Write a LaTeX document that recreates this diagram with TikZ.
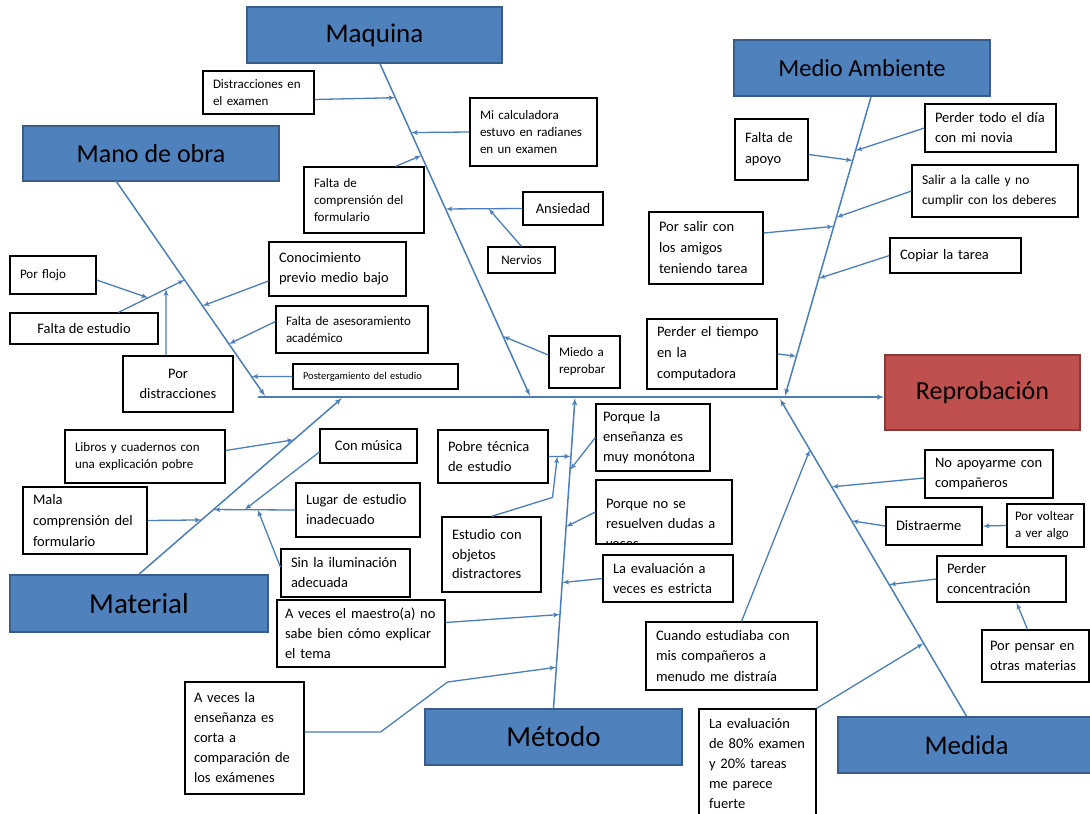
\documentclass[tikz,border=0pt]{standalone}
\usepackage{fontspec}
\setmainfont{Carlito}
\usetikzlibrary{arrows,positioning,calc}
\definecolor{hdrblue}{HTML}{4F81BD}
\definecolor{hdrline}{HTML}{385D8A}
\definecolor{effred}{HTML}{C0504D}
\definecolor{effline}{HTML}{8C3836}
\definecolor{bonecol}{HTML}{4A7EBB}
\tikzset{
	header/.style = {draw=hdrline, fill=hdrblue, line width=1.6pt, inner sep=0pt, font=\fontsize{27}{30}\selectfont},
	effect/.style = {draw=effline, fill=effred, line width=1.6pt, inner sep=0pt, font=\fontsize{26}{30}\selectfont},
	cause/.style = {draw=black, fill=white, line width=1.2pt, inner xsep=10pt, inner ysep=0pt, align=left, font=\fontsize{14.5}{20}\selectfont},
	causesm/.style = {cause, font=\fontsize{13}{17}\selectfont},
	bone/.style = {draw=bonecol, line width=1.5pt},
	branch/.style = {draw=bonecol, line width=1.3pt},
	tmp/.style = {coordinate}
}

\begin{document}
\begin{tikzpicture}[x=1pt, y=-1pt, >=latex']
	\useasboundingbox (0,0) rectangle (1090,814);
	% ========================== Nodes ============================
	% Heads and effect
	\node [header, minimum width=255pt, minimum height=56pt] (maquina) at (374.5,35) {Maquina};
	\node [header, minimum width=256pt, minimum height=56pt, font=\fontsize{24.5}{28}\selectfont] (ambiente) at (862,68) {Medio Ambiente};
	\node [header, minimum width=256pt, minimum height=55pt, font=\fontsize{26}{30}\selectfont] (manoobra) at (151,153.5) {Mano de obra};
	\node [header, minimum width=258pt, minimum height=57pt, font=\fontsize{29}{32}\selectfont] (material) at (139,603.5) {Material};
	\node [header, minimum width=257pt, minimum height=56pt, font=\fontsize{29}{32}\selectfont] (metodo) at (553.5,737) {Método};
	\node [header, minimum width=257pt, minimum height=56pt] (medida) at (966.5,745) {Medida};
	\node [effect, minimum width=195pt, minimum height=75pt] (reprob) at (982.5,392.5) {Reprobación};

	% Causes of Maquina
	\node [causesm, text width=91pt, minimum height=43pt] (distexam) at (258.5,92.5) {Distracciones en\\el examen};
	\node [causesm, text width=107pt, minimum height=68pt] (calc) at (533.5,132) {Mi calculadora\\estuvo en radianes\\en un examen};
	\node [causesm, text width=100pt, minimum height=66pt] (faltacomp) at (364,200) {Falta de\\comprensión del\\formulario};
	\node [cause, align=center, minimum width=80pt, minimum height=33pt] (ansiedad) at (563,208.5) {Ansiedad};
	\node [causesm, align=center, minimum width=67pt, minimum height=26pt] (nervios) at (521.5,260) {Nervios};
	\node [causesm, text width=51pt, minimum height=52pt] (miedo) at (584.5,362) {Miedo a\\reprobar};

	% Causes of Mano de obra
	\node [cause, text width=117pt, minimum height=54pt] (conoc) at (337.5,269) {Conocimiento\\previo medio bajo};
	\node [causesm, text width=132pt, minimum height=47pt] (asesor) at (352,329.5) {Falta de asesoramiento\\académico};
	\node [cause, text width=145pt, minimum height=25pt, font=\fontsize{10.5}{12}\selectfont] (poster) at (375.5,376.5) {Postergamiento del estudio};
	\node [causesm, text width=66pt, minimum height=38pt] (flojo) at (53,275) {Por flojo};
	\node [cause, align=center, minimum width=148pt, minimum height=31pt] (faltaest) at (84,328.5) {Falta de estudio};
	\node [cause, align=center, minimum width=110pt, minimum height=56pt] (pordist) at (178,384) {Por\\distracciones};

	% Causes of Material
	\node [causesm, text width=140pt, minimum height=53pt] (libros) at (145,456.5) {Libros y cuadernos con\\una explicación pobre};
	\node [cause, align=center, minimum width=97pt, minimum height=34pt] (musica) at (368.5,446) {Con música};
	\node [cause, text width=104pt, minimum height=67pt, font=\fontsize{14.5}{21}\selectfont] (mala) at (85,520.5) {Mala\\comprensión del\\formulario};
	\node [cause, text width=104pt, minimum height=54pt] (lugar) at (358,510) {Lugar de estudio\\inadecuado};
	\node [cause, text width=109pt, minimum height=48pt] (ilum) at (345.5,573) {Sin la iluminación\\adecuada};

	% Causes of Metodo
	\node [cause, text width=152pt, inner xsep=8pt, minimum height=67pt] (maestro) at (361,633.5) {A veces el maestro(a) no\\sabe bien cómo explicar\\el tema};
	\node [cause, text width=101pt, inner xsep=9pt, minimum height=112pt] (corta) at (244.5,738) {A veces la\\enseñanza es\\corta a\\comparación de\\los exámenes};
	\node [cause, text width=90pt, minimum height=53pt] (pobre) at (493,456.5) {Pobre técnica\\de estudio};
	\node [cause, text width=79pt, minimum height=75pt, font=\fontsize{14.5}{19.5}\selectfont] (objetos) at (491.5,554.5) {Estudio con\\objetos\\distractores};
	\node [cause, text width=100pt, inner xsep=7pt, minimum height=67pt] (monotona) at (653,437.5) {Porque la\\enseñanza es\\muy monótona};
	\node [cause, minimum width=136pt, minimum height=64pt] (dudas) at (664,512) {};
	\begin{scope}
		\clip ($(dudas.north west)+(1,1)$) rectangle ($(dudas.south east)+(-1,-1)$);
		\node [cause, draw=none, fill=none, text width=116pt, anchor=north west] (dudastxt) at ($(dudas.north west)+(0,19)$) {Porque no se\\resuelven dudas a\\veces};
	\end{scope}
	\node [cause, text width=110pt, minimum height=47pt] (estricta) at (668,578.5) {La evaluación a\\veces es estricta};

	% Causes of Medio Ambiente
	\node [cause, text width=111pt, minimum height=48pt] (novia) at (990.5,128) {Perder todo el día\\con mi novia};
	\node [cause, text width=53pt, minimum height=61pt, font=\fontsize{14.5}{21}\selectfont] (apoyo) at (771.5,149.5) {Falta de\\apoyo};
	\node [cause, text width=146pt, minimum height=52pt, font=\fontsize{13.5}{20}\selectfont] (calle) at (995,191) {Salir a la calle y no\\cumplir con los deberes};
	\node [cause, text width=94pt, minimum height=72pt, font=\fontsize{14.5}{21}\selectfont] (amigos) at (706,248) {Por salir con\\los amigos\\teniendo tarea};
	\node [cause, text width=111pt, minimum height=35pt] (copiar) at (955.5,255.5) {Copiar la tarea};
	\node [cause, text width=110pt, minimum height=70pt, font=\fontsize{14.5}{21}\selectfont] (tiempo) at (712,354) {Perder el tiempo\\en la\\computadora};

	% Causes of Medida
	\node [cause, text width=108pt, minimum height=48pt] (noapoyo) at (989,474) {No apoyarme con\\compañeros};
	\node [cause, text width=76pt, minimum height=38pt] (distraerme) at (934,526) {Distraerme};
	\node [causesm, text width=61pt, inner xsep=8pt, minimum height=43pt] (voltear) at (1045.5,525.5) {Por voltear\\a ver algo};
	\node [cause, text width=109pt, minimum height=46pt] (concent) at (1001.5,579) {Perder\\concentración};
	\node [cause, text width=91pt, inner xsep=8pt, minimum height=52pt] (materias) at (1035.5,656) {Por pensar en\\otras materias};
	\node [cause, text width=151pt, minimum height=68pt, font=\fontsize{14.5}{20.5}\selectfont] (cuando) at (731.5,656) {Cuando estudiaba con\\mis compañeros a\\menudo me distraía};
	\node [cause, text width=97pt, minimum height=110pt] (ochenta) at (757.5,764) {La evaluación\\de 80\% examen\\y 20\% tareas\\me parece\\fuerte};

	% Bone ends
	\coordinate (spineL) at (258,397);
	\coordinate (mqTop) at ($(maquina.south)+(5.5,0)$);
	\coordinate (mqEnd) at (530,396);
	\coordinate (moTop) at (116,181);
	\coordinate (moEnd) at (265,396);
	\coordinate (maEnd) at (342,398);
	\coordinate (meEnd) at (575,398);
	\coordinate (amTop) at ($(ambiente.south)+(9,0)$);
	\coordinate (amEnd) at (785,396);
	\coordinate (mdEnd) at (780,399);

	% Points on the bones
	\coordinate (mqA) at ($(mqTop)!0.102!(mqEnd)$);
	\coordinate (mqB) at ($(mqTop)!0.207!(mqEnd)$);
	\coordinate (mqC) at ($(mqTop)!0.276!(mqEnd)$);
	\coordinate (mqD) at ($(mqTop)!0.437!(mqEnd)$);
	\coordinate (mqE) at ($(mqTop)!0.820!(mqEnd)$);
	\coordinate (moA) at ($(moTop)!0.581!(moEnd)$);
	\coordinate (moB) at ($(moTop)!0.758!(moEnd)$);
	\coordinate (moC) at ($(moTop)!0.909!(moEnd)$);
	\coordinate (moD) at ($(moTop)!0.460!(moEnd)$);
	\coordinate (maA) at ($(material.north)!0.763!(maEnd)$);
	\coordinate (maB) at ($(material.north)!0.308!(maEnd)$);
	\coordinate (maC) at ($(material.north)!0.367!(maEnd)$);
	\coordinate (meA) at ($(metodo.north)!0.812!(meEnd)$);
	\coordinate (meB) at ($(metodo.north)!0.768!(meEnd)$);
	\coordinate (meC) at ($(metodo.north)!0.585!(meEnd)$);
	\coordinate (meD) at ($(metodo.north)!0.405!(meEnd)$);
	\coordinate (meE) at ($(metodo.north)!0.302!(meEnd)$);
	\coordinate (meF) at ($(metodo.north)!0.132!(meEnd)$);
	\coordinate (amA) at ($(amTop)!0.180!(amEnd)$);
	\coordinate (amB) at ($(amTop)!0.213!(amEnd)$);
	\coordinate (amC) at ($(amTop)!0.403!(amEnd)$);
	\coordinate (amD) at ($(amTop)!0.433!(amEnd)$);
	\coordinate (amE) at ($(amTop)!0.607!(amEnd)$);
	\coordinate (amF) at ($(amTop)!0.867!(amEnd)$);
	\coordinate (mdA) at ($(medida.north)!0.723!(mdEnd)$);
	\coordinate (mdB) at ($(medida.north)!0.616!(mdEnd)$);
	\coordinate (mdC) at ($(medida.north)!0.415!(mdEnd)$);
	\coordinate (mdD) at ($(medida.north)!0.840!(mdEnd)$);
	\coordinate (mdE) at ($(medida.north)!0.230!(mdEnd)$);
	\coordinate (feS) at ($(faltaest.north west)!0.73!(faltaest.north east)$);

	% ========================== Lines ============================
	\draw [bone,->] (spineL) -- (spineL -| reprob.west);
	\draw [bone,->] (mqTop) -- (mqEnd);
	\draw [bone,->] (moTop) -- (moEnd);
	\draw [bone,->] (material.north) -- (maEnd);
	\draw [bone,->] (metodo.north) -- (meEnd);
	\draw [bone,->] (amTop) -- (amEnd);
	\draw [bone,->] (medida.north) -- (mdEnd);

	% Maquina
	\draw [branch,->] ([yshift=-7pt]distexam.east) -- (mqA);
	\draw [branch,->] (calc.west) -- (mqB);
	\draw [branch,->] ($(faltacomp.north west)!0.76!(faltacomp.north east)$) -- (mqC);
	\draw [branch,->] (ansiedad.west) -- (mqD);
	\draw [branch,->] (nervios.north) -- ($(ansiedad.west)!0.44!(mqD)$);
	\draw [branch,->] ([yshift=7pt]miedo.west) -- (mqE);

	% Mano de obra
	\draw [branch,->] ([yshift=-12pt]conoc.west) -- (moA);
	\draw [branch,->] ([yshift=8pt]asesor.west) -- (moB);
	\draw [branch,->] (poster.west) -- (moC);
	\draw [branch,->] (feS) -- (moD);
	\draw [branch,->] ([yshift=-5pt]flojo.east) -- ($(feS)!0.45!(moD)$);
	\draw [branch,->] ([xshift=-12pt]pordist.north) -- ($(feS)!0.72!(moD)$);

	% Material
	\draw [branch,->] ([yshift=6pt]libros.east) -- (maA);
	\draw [branch,->] (mala.east) -- (maB);
	\draw [branch,->] (lugar.west) -- (maC);
	\draw [branch,->] ([yshift=-6pt]musica.west) -- ($(lugar.west)!0.62!(maC)$);
	\draw [branch,->] ([yshift=6pt]ilum.west) -- ($(lugar.west)!0.46!(maC)$);

	% Metodo
	\draw [branch,->] (pobre.east) -- (meA);
	\draw [branch,->] (objetos.north) -- ++(61,-19) -- ($(pobre.east)!0.39!(meA)$);
	\draw [branch,->] (monotona.west) -- (meB);
	\draw [branch,->] (dudas.west) -- (meC);
	\draw [branch,->] (estricta.west) -- (meD);
	\draw [branch,->] ([yshift=11pt]maestro.east) -- (meE);
	\draw [branch,->] ([yshift=6pt]corta.east) -- ++(76,0) -- ++(67,-50) -- (meF);

	% Medio Ambiente
	\draw [branch,->] (novia.west) -- (amA);
	\draw [branch,->] ([yshift=-5pt]apoyo.east) -- (amB);
	\draw [branch,->] (calle.west) -- (amC);
	\draw [branch,->] ([yshift=15pt]amigos.east) -- (amD);
	\draw [branch,->] (copiar.west) -- (amE);
	\draw [branch,->] (tiempo.east) -- (amF);

	% Medida
	\draw [branch,->] ([yshift=-4pt]noapoyo.west) -- (mdA);
	\draw [branch,->] (distraerme.west) -- (mdB);
	\draw [branch,->] (voltear.west) -- (distraerme.east);
	\draw [branch,->] (concent.west) -- (mdC);
	\draw [branch,->] ([xshift=-8pt]materias.north) -- ([xshift=15pt]concent.south);
	\draw [branch,->] ([xshift=10pt]cuando.north) -- (mdD);
	\draw [branch,->] (ochenta.north east) -- (mdE);
\end{tikzpicture}
\end{document}
